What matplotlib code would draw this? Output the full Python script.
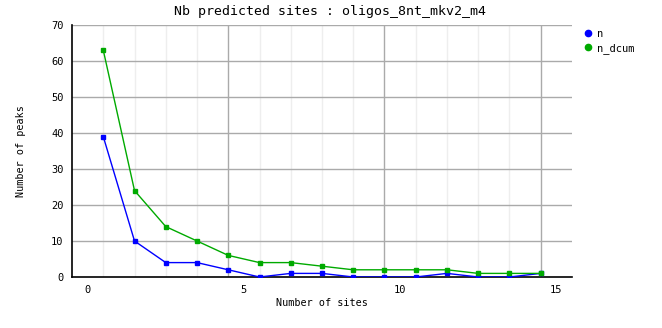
import numpy as np
import matplotlib.pyplot as plt

# data
sites = [0.5, 1.5, 2.5, 3.5, 4.5, 5.5, 6.5, 7.5, 8.5, 9.5, 10.5, 11.5, 12.5, 13.5, 14.5]
n = [39, 10, 4, 4, 2, 0, 1, 1, 0, 0, 0, 1, 0, 0, 1]
n_dcum = [63, 24, 14, 10, 6, 4, 4, 3, 2, 2, 2, 2, 1, 1, 1]
xticks = [0, 5, 10, 15]
yticks = [0, 10, 20, 30, 40, 50, 60, 70]

mono = "DejaVu Sans Mono"
blue = "#0000ff"
green = "#00aa00"

fig = plt.figure(figsize=(6.62, 3.28), dpi=100)
ax = fig.add_axes([0.1088, 0.1555, 0.7552, 0.7683])

ax.set_xlim(-0.5, 15.5)
ax.set_ylim(0, 70)

# grid: vertical lines at each site, stronger every 5
ax.set_xticks(xticks)
ax.set_yticks(yticks)
for i, s in enumerate(sites):
    if (i + 1) % 5 == 0:
        ax.axvline(s, color="#aaaaaa", lw=1, zorder=1)
    else:
        ax.axvline(s, color="#eeeeee", lw=1, zorder=0)
for y in yticks[1:]:
    ax.axhline(y, color="#aaaaaa", lw=1, zorder=1)

ax.plot(sites, n, color=blue, lw=1, marker="s", ms=3, mec=blue, zorder=3)
ax.plot(sites, n_dcum, color=green, lw=1, marker="s", ms=3, mec=green, zorder=3)

ax.tick_params(axis="both", which="both", length=0, labelsize=7.5, pad=6)
for lab in ax.get_xticklabels() + ax.get_yticklabels():
    lab.set_fontfamily(mono)

for side in ["top", "right"]:
    ax.spines[side].set_visible(False)
for side in ["left", "bottom"]:
    ax.spines[side].set_color("black")
    ax.spines[side].set_linewidth(1.2)

ax.set_xlabel("Number of sites", fontfamily=mono, fontsize=7.3, labelpad=2)
ax.set_ylabel("Number of peaks", fontfamily=mono, fontsize=7.3, labelpad=18)
fig.suptitle("Nb predicted sites : oligos_8nt_mkv2_m4", fontfamily=mono,
             fontsize=9.5, x=0.498, y=0.985)

# legend at the right of the plot
h1, = ax.plot([], [], ls="none", marker="o", ms=4.5, color=blue)
h2, = ax.plot([], [], ls="none", marker="o", ms=4.5, color=green)
fig.legend([h1, h2], ["n", "n_dcum"], loc="upper left",
           bbox_to_anchor=(0.865, 0.94), frameon=False,
           prop={"family": mono, "size": 7.5}, handletextpad=0.2,
           handlelength=1.2, labelspacing=0.35)

fig.savefig("out.png", dpi=100)
